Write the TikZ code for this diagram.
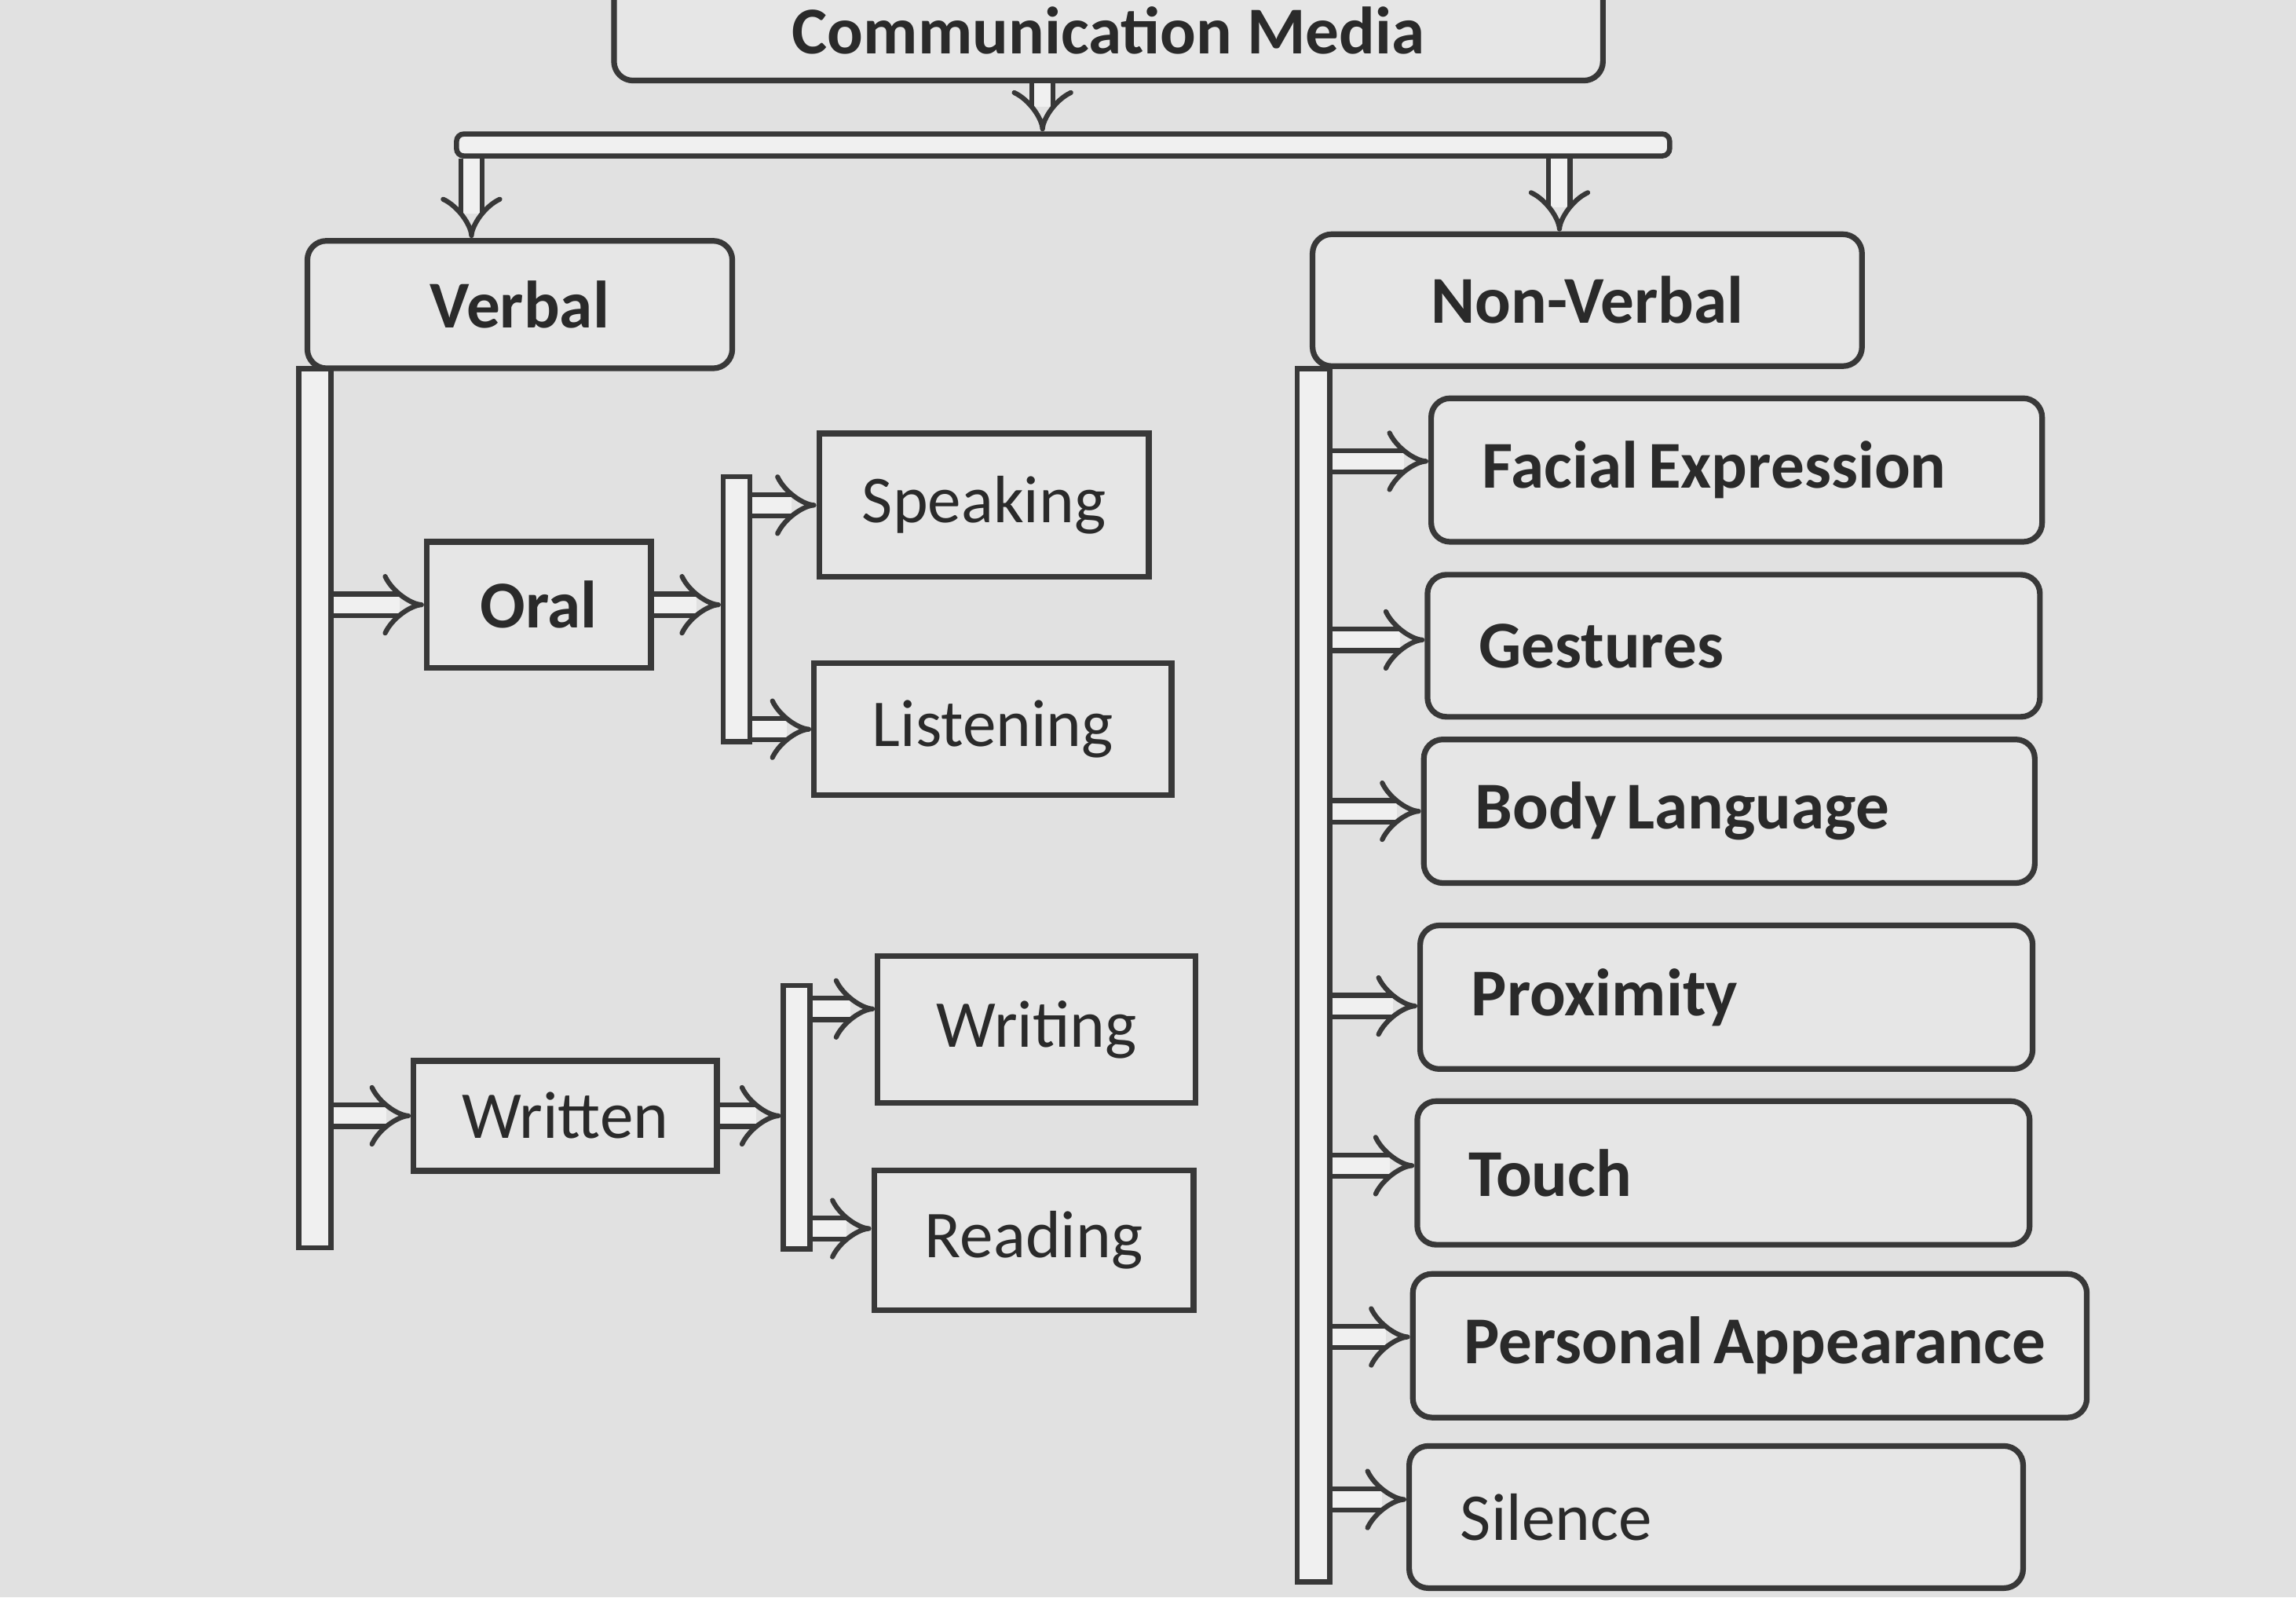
\documentclass[tikz,border=0pt]{standalone}
\usepackage{fontspec}
\setmainfont{Carlito}
\usetikzlibrary{arrows.meta}
\definecolor{bgc}{HTML}{E1E1E1}
\definecolor{boxc}{HTML}{E6E6E6}
\definecolor{linec}{HTML}{383838}
\definecolor{txtc}{HTML}{2A2A2A}
\definecolor{barc}{HTML}{F0F0F0}
\begin{document}
\begin{tikzpicture}[x=0.01cm,y=-0.01cm,
  box/.style={draw=linec, line width=1.1pt, fill=boxc, text=txtc, font=\fontsize{13}{15}\selectfont\bfseries, inner sep=0pt},
  lbox/.style={box, font=\fontsize{13}{15}\selectfont},
  rbox/.style={box, rounded corners=0.13cm},
  nvbox/.style={rbox, align=left, text width=#1, inner xsep=0.35cm, inner ysep=0pt,
    execute at begin node={\spaceskip=0.15em\relax}},
  bar/.style={draw=linec, line width=1pt, fill=barc, inner sep=0pt},
  dar/.style={draw=linec, line width=0.95pt, double=barc, double distance=3.2pt,
    -{Implies[scale=0.6]}},
]
\useasboundingbox (0,0) rectangle (1568,1091);
\clip (0,0) rectangle (1568,1091);
\fill[bgc] (0,0) rectangle (1568,1091);

% top
\node[rbox, minimum width=6.75cm, minimum height=0.68cm] (cm) at (757,21) {Communication Media};
\node[bar, rounded corners=0.05cm, minimum width=8.28cm, minimum height=0.15cm] (hb) at (726,99) {};

% level 1
\node[rbox, minimum width=2.90cm, minimum height=0.87cm] (verbal) at (355,208) {Verbal};
\node[rbox, minimum width=3.75cm, minimum height=0.90cm] (nonverbal) at (1084,205) {Non-Verbal};

\coordinate (stemtop) at ([xshift=-0.45cm]cm.south);
\draw[dar] (stemtop) -- (stemtop |- hb.north);
\coordinate (lt) at ([xshift=-0.33cm]verbal.north);
\draw[dar] (lt |- hb.south) -- (lt);
\coordinate (rt) at ([xshift=-0.19cm]nonverbal.north);
\draw[dar] (rt |- hb.south) -- (rt);

% verbal branch
\node[bar, minimum width=0.22cm, minimum height=6.00cm] (vbar) at (215,552) {};
\node[box, minimum width=1.53cm, minimum height=0.86cm] (oral) at (368,413) {Oral};
\node[lbox, minimum width=2.07cm, minimum height=0.75cm] (written) at (386,762) {Written};

\node[bar, minimum width=0.18cm, minimum height=1.81cm] (ob) at (503,416) {};
\node[lbox, minimum width=2.25cm, minimum height=0.98cm] (speaking) at (672,345) {Speaking};
\node[lbox, minimum width=2.44cm, minimum height=0.90cm] (listening) at (678,498) {Listening};

\node[bar, minimum width=0.18cm, minimum height=1.80cm] (wb) at (544,763) {};
\node[lbox, minimum width=2.17cm, minimum height=1.00cm] (writing) at (708,703) {Writing};
\node[lbox, minimum width=2.18cm, minimum height=0.95cm] (reading) at (706,847) {Reading};

\draw[dar] (vbar.east |- oral.west) -- (oral.west);
\draw[dar] (vbar.east |- written.west) -- (written.west);
\draw[dar] (oral.east) -- (ob.west |- oral.east);
\draw[dar] (written.east) -- (wb.west |- written.east);
\draw[dar] (ob.east |- speaking.west) -- (speaking.west);
\draw[dar] (ob.east |- listening.west) -- (listening.west);
\draw[dar] ([yshift=0.14cm]wb.east |- writing.west) -- ([yshift=0.14cm]writing.west);
\draw[dar] ([yshift=0.08cm]wb.east |- reading.west) -- ([yshift=0.08cm]reading.west);

% non-verbal branch
\node[bar, minimum width=0.22cm, minimum height=8.28cm] (nvbar) at (897,666) {};
\node[nvbox=3.47cm, minimum height=0.98cm] (fe) at (1186,321) {Facial Expression};
\node[nvbox=3.48cm, minimum height=0.97cm] (ge) at (1184,441) {Gestures};
\node[nvbox=3.47cm, minimum height=0.98cm] (bl) at (1181,554) {Body Language};
\node[nvbox=3.48cm, minimum height=0.98cm] (pr) at (1179,681) {Proximity};
\node[nvbox=3.48cm, minimum height=0.98cm] (to) at (1177,801) {Touch};
\node[nvbox=3.90cm, minimum height=0.98cm] (pa) at (1195,919) {\mbox{Personal Appearance}};
\node[nvbox=3.49cm, minimum height=0.97cm, font=\fontsize{13}{15}\selectfont] (si) at (1172,1036) {Silence};

\foreach \n/\s in {fe/0.06,ge/0.04,bl/0,pr/-0.06,to/0.05,pa/0.06,si/0.12}
  \draw[dar] ([yshift=\s cm]nvbar.east |- \n.west) -- ([yshift=\s cm]\n.west);
\end{tikzpicture}
\end{document}
